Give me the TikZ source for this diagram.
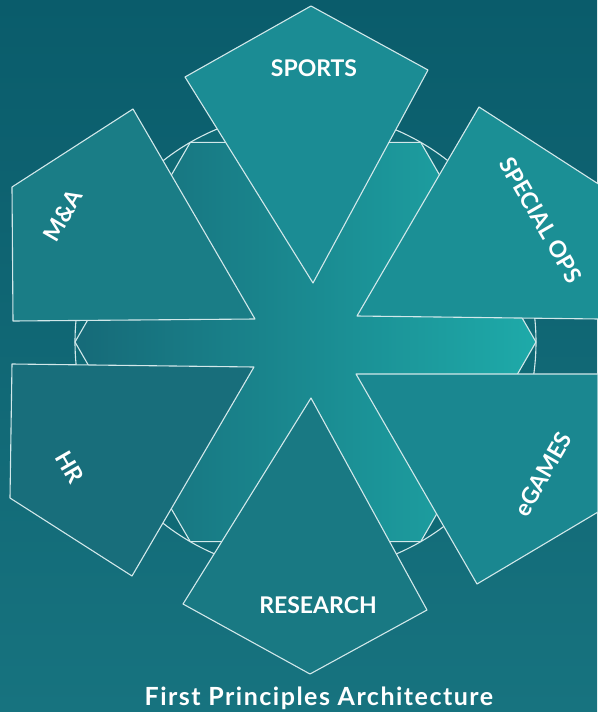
\documentclass[tikz,border=0pt]{standalone}
\usepackage{fontspec}
\setmainfont{Lato}
\definecolor{bgtop}{HTML}{0A5C6B}
\definecolor{bgbot}{HTML}{17737F}
\definecolor{ringclr}{HTML}{0F6A76}
\definecolor{hexl}{HTML}{166A78}
\definecolor{hexr}{HTML}{1EAAA9}
\definecolor{lineclr}{HTML}{D2E8EA}
\definecolor{cSports}{HTML}{1B8C94}
\definecolor{cSpecial}{HTML}{1B8F95}
\definecolor{cEgames}{HTML}{1A8790}
\definecolor{cResearch}{HTML}{197983}
\definecolor{cHR}{HTML}{186E7B}
\definecolor{cMA}{HTML}{1A7D86}
\begin{document}
\begin{tikzpicture}[x=1pt,y=-1pt,
  edge/.style={draw=lineclr, line width=1.1pt, line join=round},
  lbl/.style={text=white, font=\bfseries\fontsize{23}{23}\selectfont, inner sep=0pt}]
\useasboundingbox (0,0) rectangle (597,712);
\shade[top color=bgtop, bottom color=bgbot] (0,0) rectangle (597,712);
% outer circle
\filldraw[edge, fill=ringclr] (305.5,342) circle[radius=230.5pt];
% inner hexagon
\shadedraw[edge, left color=hexl, right color=hexr]
  (536,342) -- (420.75,142.4) -- (190.25,142.4) -- (75,342)
  -- (190.25,541.6) -- (420.75,541.6) -- cycle;
% kites
\filldraw[edge, fill=cSports]   (311,6) -- (428,70) -- (313,283) -- (185,77) -- cycle;
\filldraw[edge, fill=cSpecial]  (479,107) -- (600,185) -- (599,319) -- (357,316) -- cycle;
\filldraw[edge, fill=cEgames]   (356,374) -- (598,374) -- (598,512) -- (477,584) -- cycle;
\filldraw[edge, fill=cResearch] (311,398) -- (427,610) -- (310,674) -- (183,604) -- cycle;
\filldraw[edge, fill=cHR]       (254,367) -- (132,576) -- (10,498) -- (12,364) -- cycle;
\filldraw[edge, fill=cMA]       (255,319) -- (13,321) -- (12,187) -- (133,109) -- cycle;
% labels
\node[lbl] (sports) at (314,68) {SPORTS};
\node[lbl, rotate=-60] (special) at (541,220) {SPECIAL OPS};
\node[lbl, rotate=60] (egames) at (543,474) {eGAMES};
\node[lbl] (research) at (318,605) {RESEARCH};
\node[lbl, rotate=-60] (hr) at (70,467) {HR};
\node[lbl, rotate=60] (ma) at (63,215) {M\&A};
\node[lbl, font=\bfseries\fontsize{25}{25}\selectfont\addfontfeature{LetterSpace=6}] (title) at (319,698) {First Principles Architecture};
\end{tikzpicture}
\end{document}
